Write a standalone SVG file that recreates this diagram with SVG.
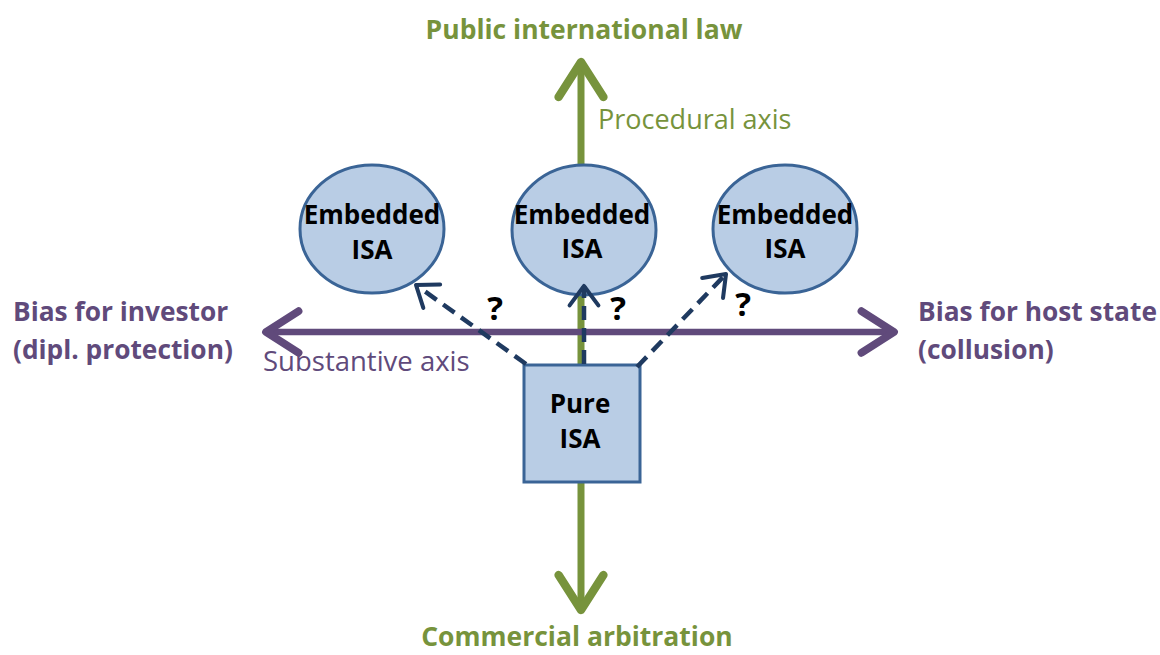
<svg xmlns="http://www.w3.org/2000/svg" width="1160" height="655" viewBox="0 0 1160 655">
<style>
.g{fill:#77933c;font-family:"Open Sans","Liberation Sans",sans-serif}
.p{fill:#604a7b;font-family:"Open Sans","Liberation Sans",sans-serif}
.b{font-weight:bold}
.n{fill:#000;font-family:"Open Sans","Liberation Sans",sans-serif;font-weight:bold;font-size:26px;text-anchor:middle}
.shape{fill:#b9cde5;stroke:#3a6496;stroke-width:3}
.dash{fill:none;stroke:#1f3a60;stroke-width:4.5;stroke-dasharray:14 8}
.q{fill:#000;font-family:"Open Sans","Liberation Sans",sans-serif;font-weight:bold;font-size:33px;text-anchor:middle}
</style>
<defs>
<marker id="ga" markerWidth="8" markerHeight="8" refX="6.5" refY="4" orient="auto" markerUnits="strokeWidth"><path d="M1.5,0.8 L6.5,4 L1.5,7.2" fill="none" stroke="#77933c" stroke-width="1.2" stroke-linecap="round" stroke-linejoin="round"/></marker>
<marker id="pa" markerWidth="8" markerHeight="8" refX="6.5" refY="4" orient="auto" markerUnits="strokeWidth"><path d="M1.5,0.8 L6.5,4 L1.5,7.2" fill="none" stroke="#604a7b" stroke-width="1.2" stroke-linecap="round" stroke-linejoin="round"/></marker>
<marker id="da" markerWidth="8" markerHeight="8" refX="5.5" refY="4" orient="auto" markerUnits="strokeWidth"><path d="M1.2,0.8 L5.5,4 L1.2,7.2" fill="none" stroke="#1f3a60" stroke-width="0.9" stroke-linecap="round" stroke-linejoin="round"/></marker>
</defs>
<g id="connectors">
<line x1="581" y1="330" x2="581" y2="62" stroke="#77933c" stroke-width="7" marker-end="url(#ga)"/>
<line x1="581" y1="330" x2="581" y2="610" stroke="#77933c" stroke-width="7" marker-end="url(#ga)"/>
<line x1="580" y1="332" x2="266" y2="332" stroke="#604a7b" stroke-width="6.5" marker-end="url(#pa)"/>
<line x1="580" y1="332" x2="894" y2="332" stroke="#604a7b" stroke-width="6.5" marker-end="url(#pa)"/>
</g>
<g id="embedded-left"><ellipse class="shape" cx="372" cy="229" rx="72" ry="64"/><text class="n" x="372" y="224">Embedded</text><text class="n" x="372" y="259">ISA</text></g>
<g id="embedded-mid"><ellipse class="shape" cx="584" cy="230" rx="72" ry="65"/><text class="n" x="582" y="224">Embedded</text><text class="n" x="582" y="258">ISA</text></g>
<g id="embedded-right"><ellipse class="shape" cx="785" cy="229" rx="72" ry="64"/><text class="n" x="785" y="224">Embedded</text><text class="n" x="785" y="258">ISA</text></g>
<g id="pure"><rect class="shape" x="524" y="365" width="116" height="117"/><text class="n" x="580" y="413">Pure</text><text class="n" x="580" y="448">ISA</text></g>
<g id="dashed-connectors">
<line class="dash" x1="526" y1="364" x2="416" y2="285" marker-end="url(#da)"/>
<line class="dash" x1="584" y1="364" x2="584" y2="286" marker-end="url(#da)"/>
<line class="dash" x1="637" y1="367" x2="726" y2="274" marker-end="url(#da)"/>
</g>
<g id="labels">
<text class="q" x="495" y="320">?</text>
<text class="q" x="618" y="320">?</text>
<text class="q" x="743" y="316">?</text>
<text class="g b" x="584" y="39" font-size="26.5" text-anchor="middle">Public international law</text>
<text class="g" x="598" y="129" font-size="27">Procedural axis</text>
<text class="g b" x="577" y="646" font-size="26.5" text-anchor="middle">Commercial arbitration</text>
<text class="p b" x="13" y="321" font-size="26.3">Bias for investor</text>
<text class="p b" x="13" y="359" font-size="26.3">(dipl. protection)</text>
<text class="p" x="263" y="371" font-size="27.5">Substantive axis</text>
<text class="p b" x="918" y="321" font-size="26.3">Bias for host state</text>
<text class="p b" x="918" y="359" font-size="26.3">(collusion)</text>
</g>
</svg>
